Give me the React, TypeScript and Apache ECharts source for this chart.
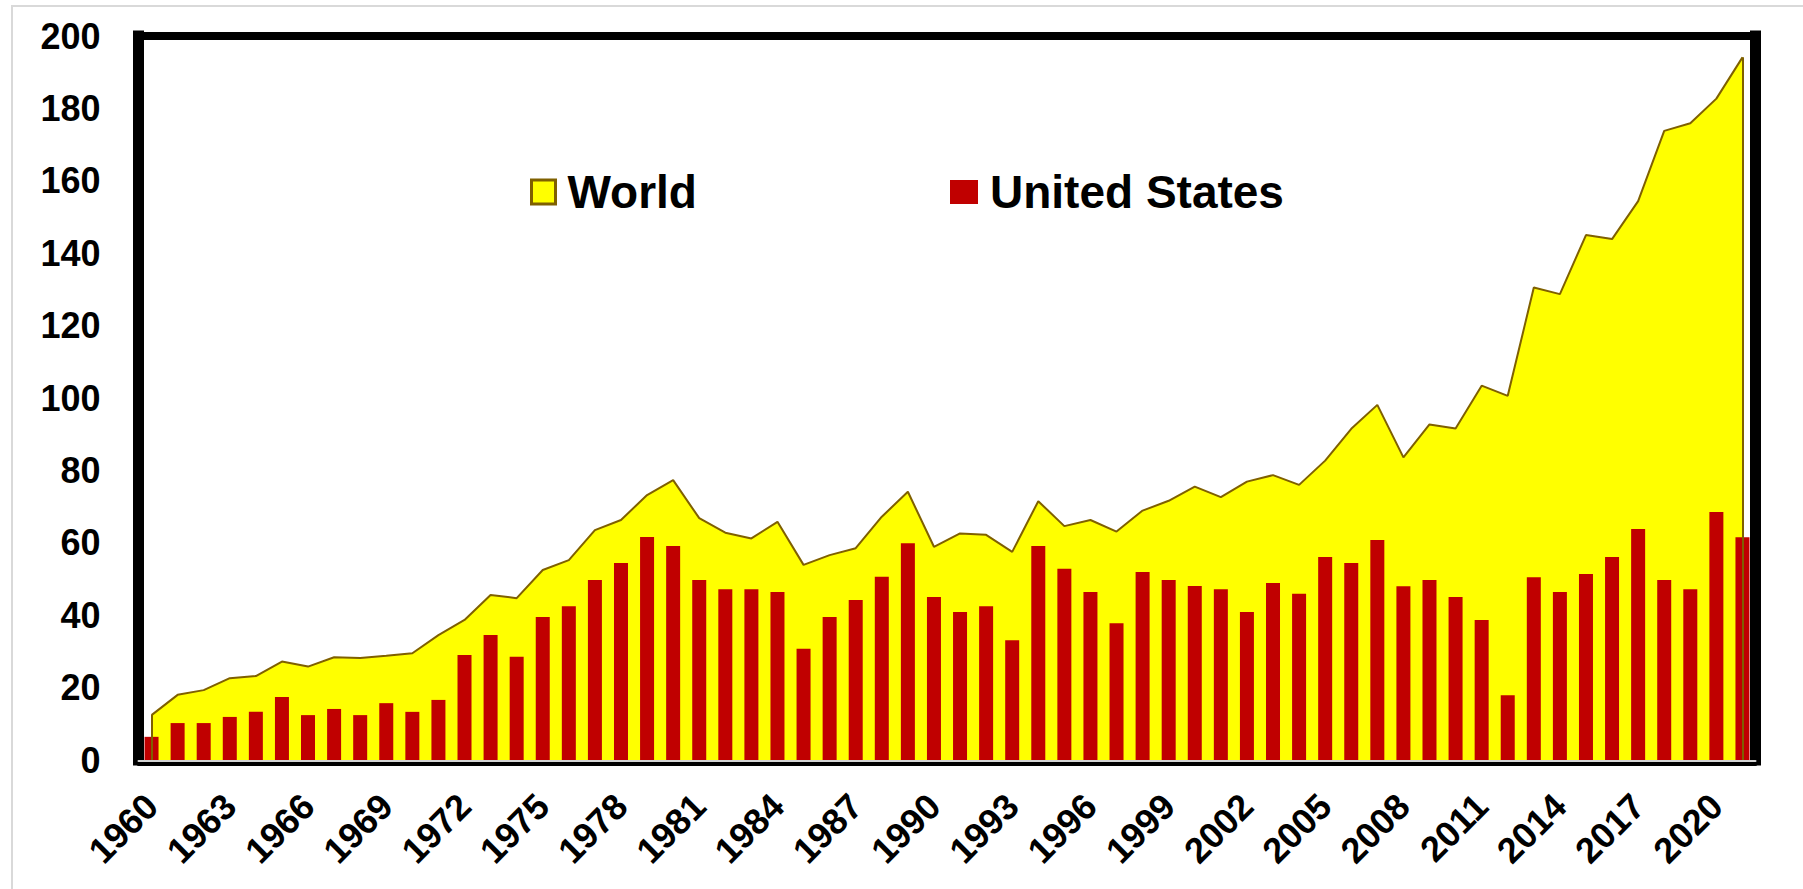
import React, { useEffect, useRef } from "react";
import * as echarts from "echarts";

const years = [
  "1960", "1961", "1962", "1963", "1964", "1965", "1966", "1967", "1968", "1969",
  "1970", "1971", "1972", "1973", "1974", "1975", "1976", "1977", "1978", "1979",
  "1980", "1981", "1982", "1983", "1984", "1985", "1986", "1987", "1988", "1989",
  "1990", "1991", "1992", "1993", "1994", "1995", "1996", "1997", "1998", "1999",
  "2000", "2001", "2002", "2003", "2004", "2005", "2006", "2007", "2008", "2009",
  "2010", "2011", "2012", "2013", "2014", "2015", "2016", "2017", "2018", "2019",
  "2020", "2021",
];

const world = [
  12.4, 18.0, 19.3, 22.6, 23.2, 27.2, 25.8, 28.4, 28.2, 28.8,
  29.5, 34.5, 38.7, 45.6, 44.7, 52.5, 55.2, 63.5, 66.3, 73.2,
  77.3, 66.8, 62.8, 61.2, 65.8, 53.9, 56.6, 58.5, 67.2, 74.1,
  58.9, 62.6, 62.2, 57.5, 71.5, 64.6, 66.3, 63.1, 68.9, 71.6,
  75.5, 72.6, 76.9, 78.7, 76.0, 82.7, 91.5, 98.1, 83.6, 92.7,
  91.6, 103.4, 100.6, 130.5, 128.7, 145.0, 143.9, 154.4, 173.8, 175.9,
  182.7, 194.1,
];

const unitedStates = [
  6.4, 10.2, 10.2, 11.9, 13.3, 17.4, 12.4, 14.1, 12.4, 15.7,
  13.3, 16.6, 29.0, 34.5, 28.5, 39.5, 42.5, 49.7, 54.4, 61.6,
  59.1, 49.7, 47.2, 47.2, 46.4, 30.7, 39.5, 44.2, 50.6, 59.9,
  45.0, 40.9, 42.5, 33.1, 59.1, 52.8, 46.4, 37.8, 51.9, 49.7,
  48.1, 47.2, 40.9, 48.9, 45.9, 56.1, 54.4, 60.8, 48.0, 49.7,
  45.0, 38.7, 17.9, 50.5, 46.4, 51.4, 56.1, 63.8, 49.7, 47.2,
  68.5, 61.5,
];

const yTicks = { min: 0, max: 200, interval: 20 };

const FONT = "'Liberation Sans', Arial, sans-serif";
const YELLOW = "#ffff00";
const OUTLINE = "#7f6000";
const RED = "#c00000";

export default function App() {
  const ref = useRef<HTMLDivElement>(null);

  useEffect(() => {
    if (!ref.current) return;
    const chart = echarts.init(ref.current, undefined, { renderer: "svg" });
    const last = years.length - 1;

    const hiddenCategory = {
      type: "category" as const,
      data: years,
      boundaryGap: true,
      axisTick: { show: false },
      axisLabel: { show: false },
      splitLine: { show: false },
    };

    const legendText = {
      fontFamily: FONT,
      fontWeight: "bold" as const,
      fontSize: 46,
      color: "#000",
      padding: [0, 0, 0, 7],
    };

    chart.setOption({
      animation: false,
      backgroundColor: "#ffffff",
      grid: {
        left: 138.5,
        right: 47.5,
        top: 36,
        bottom: 129,
        containLabel: false,
        outerBoundsMode: "none",
      },
      legend: [
        {
          left: 530,
          top: 169,
          padding: 0,
          itemWidth: 24,
          itemHeight: 24,
          icon: "rect",
          data: [
            {
              name: "World",
              itemStyle: { color: YELLOW, borderColor: OUTLINE, borderWidth: 3 },
            },
          ],
          textStyle: legendText,
        },
        {
          left: 950,
          top: 169,
          padding: 0,
          itemWidth: 28,
          itemHeight: 24,
          icon: "rect",
          data: [{ name: "United States", itemStyle: { color: RED } }],
          textStyle: legendText,
        },
      ],
      xAxis: [
        {
          type: "category",
          data: years,
          boundaryGap: true,
          position: "bottom",
          offset: 4,
          axisLine: { show: true, onZero: false, lineStyle: { color: "#000", width: 4 } },
          axisTick: { show: false },
          axisLabel: {
            interval: 2,
            rotate: 45,
            margin: 36,
            fontFamily: FONT,
            fontWeight: "bold",
            fontSize: 36,
            color: "#000",
          },
          splitLine: { show: false },
        },
        {
          ...hiddenCategory,
          position: "top",
          axisLine: {
            show: true,
            onZero: false,
            lineStyle: { color: "#000", width: 8, cap: "square" },
          },
        },
        {
          ...hiddenCategory,
          position: "bottom",
          offset: 1,
          axisLine: {
            show: true,
            onZero: false,
            lineStyle: { color: "#d4d4d4", width: 2 },
          },
        },
      ],
      yAxis: [
        {
          type: "value",
          ...yTicks,
          position: "left",
          axisLine: {
            show: true,
            onZero: false,
            lineStyle: { color: "#000", width: 11, cap: "square" },
          },
          axisTick: { show: false },
          splitLine: { show: false },
          axisLabel: {
            margin: 38,
            fontFamily: FONT,
            fontWeight: "bold",
            fontSize: 36,
            color: "#000",
          },
        },
        {
          type: "value",
          ...yTicks,
          position: "right",
          axisLine: {
            show: true,
            onZero: false,
            lineStyle: { color: "#000", width: 11, cap: "square" },
          },
          axisTick: { show: false },
          splitLine: { show: false },
          axisLabel: { show: false },
        },
      ],
      graphic: [
        // light frame of the picture area
        {
          type: "rect",
          shape: { x: 11, y: 5, width: 2, height: 884 },
          style: { fill: "#d9d9d9" },
          silent: true,
        },
        {
          type: "rect",
          shape: { x: 11, y: 5, width: 1792, height: 2 },
          style: { fill: "#d9d9d9" },
          silent: true,
        },
      ],
      series: [
        {
          name: "World",
          type: "line",
          data: world,
          symbol: "none",
          z: 2,
          lineStyle: { color: OUTLINE, width: 2 },
          itemStyle: { color: YELLOW, borderColor: OUTLINE },
          areaStyle: { color: YELLOW, opacity: 1 },
          markLine: {
            silent: true,
            symbol: "none",
            label: { show: false },
            lineStyle: { color: OUTLINE, width: 2, type: "solid" },
            data: [
              [{ coord: [years[0], 0] }, { coord: [years[0], world[0]] }],
              [{ coord: [years[last], 0] }, { coord: [years[last], world[last]] }],
            ],
          },
        },
        {
          name: "United States",
          type: "bar",
          data: unitedStates,
          barWidth: 14,
          z: 3,
          itemStyle: { color: RED },
        },
      ],
    });

    return () => chart.dispose();
  }, []);

  return (
    <div
      ref={ref}
      style={{ position: "absolute", left: 0, top: 0, width: 1803, height: 889 }}
    />
  );
}
